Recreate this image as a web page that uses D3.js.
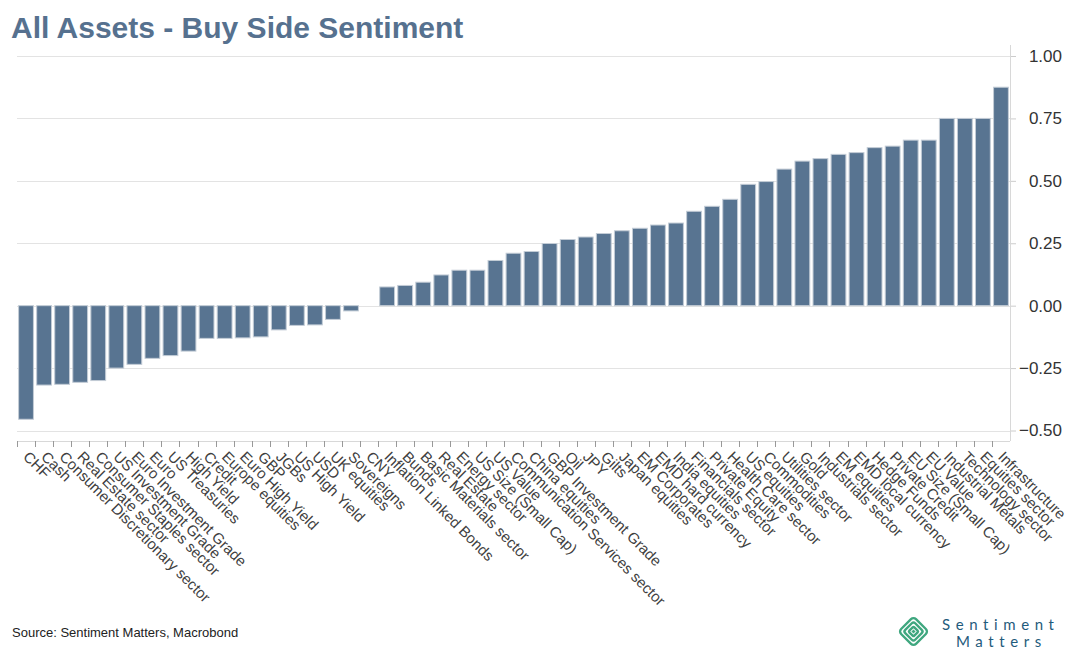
<!DOCTYPE html>
<html>
<head>
<meta charset="utf-8">
<script src="https://cdn.jsdelivr.net/npm/d3@7"></script>
<style>
  body { margin: 0; background: #fff; }
  svg { display: block; font-family: "Liberation Sans", Arial, sans-serif; }
</style>
</head>
<body>
<script>
// categories, sorted as in the chart
const categories = [
  "CHF", "Cash", "Consumer Discretionary sector", "Real Estate sector", "Consumer Staples sector",
  "US Investment Grade", "Euro Investment Grade", "Euro", "US Treasuries", "High Yield",
  "Credit", "Europe equities", "Euro High Yield", "GBP", "JGBs", "US High Yield", "USD",
  "UK equities", "Sovereigns", "CNY", "Inflation Linked Bonds", "Bunds", "Basic Materials sector",
  "Real Estate", "Energy sector", "US Size (Small Cap)", "US Value", "Communication Services sector",
  "China equities", "GBP Investment Grade", "Oil", "JPY", "Gilts", "Japan equities", "EM Corporates",
  "EMD hard currency", "India equities", "Financials sector", "Private Equity", "Health Care sector",
  "US equities", "Commodities", "Utilities sector", "Gold", "Industrials sector", "EM equities",
  "EMD local currency", "Hedge Funds", "Private Credit", "EU Size (Small Cap)", "EU Value",
  "Industrial Metals", "Technology sector", "Equities sector", "Infrastructure"
];

// sentiment values
const sentiment = [
  -0.455, -0.318, -0.315, -0.307, -0.300,
  -0.250, -0.235, -0.211, -0.200, -0.182,
  -0.131, -0.131, -0.129, -0.125, -0.097, -0.079, -0.077,
  -0.055, -0.021, 0.000, 0.075, 0.081, 0.094,
  0.123, 0.142, 0.142, 0.181, 0.210,
  0.217, 0.249, 0.265, 0.275, 0.289, 0.300, 0.310,
  0.323, 0.331, 0.378, 0.398, 0.426,
  0.486, 0.497, 0.547, 0.579, 0.589, 0.606,
  0.613, 0.633, 0.639, 0.663, 0.663,
  0.750, 0.750, 0.750, 0.875
];

const yTicks = [1.00, 0.75, 0.50, 0.25, 0.00, -0.25, -0.50];

const titleText = "All Assets - Buy Side Sentiment";
const sourceText = "Source: Sentiment Matters, Macrobond";

const W = 1072, H = 660;
const plot = { left: 17, right: 1010, top: 45, bottom: 441 };
const barColor = "#587491";
const gridColor = "#e3e3e3";
const labelColor = "#404040";
const logoGreen = "#3fa77f";
const logoBlue = "#1f5b7c";

const data = categories.map((c, i) => ({ name: c, value: sentiment[i] }));

const svg = d3.select("body").append("svg")
  .attr("width", W)
  .attr("height", H);

// title
svg.append("text")
  .attr("x", 11)
  .attr("y", 38)
  .attr("font-size", 30)
  .attr("font-weight", "bold")
  .attr("fill", "#56718f")
  .text(titleText);

// scales
const x = d3.scaleBand()
  .domain(categories)
  .range([plot.left, plot.right])
  .paddingInner(0.18)
  .paddingOuter(0.09);

const y = d3.scaleLinear()
  .domain([-0.5, 1])
  .range([430.5, 56]);

// gridlines
svg.append("g")
  .selectAll("line")
  .data(yTicks)
  .enter()
  .append("line")
    .attr("x1", plot.left)
    .attr("x2", plot.right)
    .attr("y1", d => Math.round(y(d)) + 0.5)
    .attr("y2", d => Math.round(y(d)) + 0.5)
    .attr("stroke", gridColor)
    .attr("stroke-width", 1);

// right axis
const yAxis = d3.axisRight(y)
  .tickValues(yTicks)
  .tickSize(6)
  .tickFormat(d3.format(".2f"));

const gy = svg.append("g")
  .attr("transform", `translate(${plot.right},0)`)
  .call(yAxis);
gy.select(".domain").remove();
gy.append("line")
  .attr("x1", 0.5).attr("x2", 0.5)
  .attr("y1", plot.top).attr("y2", plot.bottom)
  .attr("stroke", "#d8d8d8");
gy.selectAll(".tick line").attr("stroke", "#cccccc");
gy.selectAll(".tick text")
  .attr("x", 52)
  .attr("text-anchor", "end")
  .attr("font-size", 17)
  .attr("font-family", "Liberation Sans, Arial, sans-serif")
  .attr("fill", "#333");

// bars
svg.append("g")
  .selectAll("rect")
  .data(data.filter(d => d.value !== 0))
  .enter()
  .append("rect")
    .attr("x", d => x(d.name))
    .attr("width", x.bandwidth())
    .attr("y", d => y(Math.max(0, d.value)))
    .attr("height", d => Math.abs(y(d.value) - y(0)))
    .attr("fill", barColor)
    .attr("stroke", "#c3ccd6")
    .attr("stroke-width", 1);

// x axis line and category boundary ticks
const gx = svg.append("g");
gx.append("line")
  .attr("x1", plot.left).attr("x2", plot.right)
  .attr("y1", plot.bottom + 0.5).attr("y2", plot.bottom + 0.5)
  .attr("stroke", "#d8d8d8");

const boundaries = categories.map(c => x(c) - x.step() * x.paddingInner() / 2);
gx.selectAll(".xtick")
  .data(boundaries)
  .enter()
  .append("line")
    .attr("class", "xtick")
    .attr("x1", d => Math.round(d) + 0.5)
    .attr("x2", d => Math.round(d) + 0.5)
    .attr("y1", plot.bottom)
    .attr("y2", plot.bottom + 6)
    .attr("stroke", "#999");

// rotated category labels
gx.selectAll(".xlabel")
  .data(categories)
  .enter()
  .append("text")
    .attr("class", "xlabel")
    .attr("transform", d => `translate(${x(d) + x.bandwidth() / 2},${plot.bottom + 13}) rotate(45)`)
    .attr("text-anchor", "start")
    .attr("dy", "0.35em")
    .attr("font-size", 15)
    .attr("fill", labelColor)
    .text(d => d);

// source note
svg.append("text")
  .attr("x", 12)
  .attr("y", 637)
  .attr("font-size", 13)
  .attr("fill", "#222")
  .text(sourceText);

// logo
const logo = svg.append("g").attr("transform", "translate(913.5,631.5) rotate(45)");
[21, 14, 7].forEach(s => {
  logo.append("rect")
    .attr("x", -s / 2).attr("y", -s / 2)
    .attr("width", s).attr("height", s)
    .attr("rx", s / 6)
    .attr("fill", "none")
    .attr("stroke", logoGreen)
    .attr("stroke-width", 2.4);
});
logo.append("rect")
  .attr("x", -1.5).attr("y", -1.5)
  .attr("width", 3).attr("height", 3)
  .attr("fill", logoGreen);

svg.append("text")
  .attr("x", 942).attr("y", 630)
  .attr("font-size", 15)
  .attr("letter-spacing", 5.6)
  .attr("fill", logoBlue)
  .attr("font-family", "Lato, sans-serif")
  .text("Sentiment");
svg.append("text")
  .attr("x", 956).attr("y", 647)
  .attr("font-size", 15)
  .attr("letter-spacing", 5.6)
  .attr("fill", logoBlue)
  .attr("font-family", "Lato, sans-serif")
  .text("Matters");
</script>
</body>
</html>
